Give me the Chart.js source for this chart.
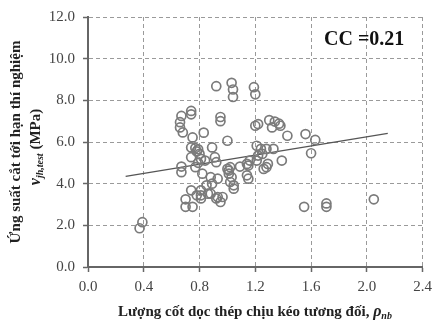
<!DOCTYPE html>
<html>
<head>
<meta charset="utf-8">
<script src="https://cdn.jsdelivr.net/npm/chart.js@4.4.0/dist/chart.umd.min.js"></script>
<style>
  html, body { margin: 0; padding: 0; background: #fff; }
  #wrap { width: 438px; height: 322px; }
</style>
</head>
<body>
<div id="wrap"><canvas id="shearChart"></canvas></div>
<script>
// relative longitudinal tension reinforcement ratio (x) and tested joint shear stress (y)
const rhoNb = [
  0.37, 0.39,
  0.66, 0.66, 0.67, 0.68, 0.74, 0.74, 0.75, 0.83,
  0.74, 0.78, 0.79, 0.89, 0.77, 0.80, 0.74, 0.81, 0.84, 0.91, 0.92, 0.79,
  0.67, 0.67, 0.77, 0.82, 0.88, 0.93, 0.89, 0.85,
  0.81, 0.81, 0.81, 0.86, 0.88, 0.74, 0.78, 0.92, 0.93, 0.95, 0.965,
  0.70, 0.70, 0.75,
  0.92, 1.03, 1.04, 1.04, 1.19, 1.20, 0.95, 0.95, 1.00,
  1.20, 1.22, 1.30, 1.34, 1.37, 1.32, 1.38, 1.43, 1.56, 1.63,
  1.21, 1.24, 1.28, 1.33, 1.22, 1.25,
  1.00, 1.02, 1.09, 1.14, 1.16, 1.21, 1.28, 1.39, 1.29, 1.26, 1.15,
  1.01, 1.01, 1.14, 1.03, 1.15, 1.60,
  1.02, 1.045, 1.045,
  1.55, 1.71, 1.71, 2.05
];
const vJhTest = [
  1.86, 2.15,
  6.95, 6.70, 7.25, 6.46, 7.49, 7.33, 6.22, 6.45,
  5.74, 5.55, 5.65, 5.74, 5.71, 5.43, 5.27, 5.19, 5.11, 5.27, 5.03, 5.00,
  4.82, 4.55, 4.79, 4.48, 4.31, 4.24, 4.00, 3.92,
  3.68, 3.44, 3.29, 3.52, 3.52, 3.68, 3.44, 3.29, 3.36, 3.12, 3.36,
  3.25, 2.89, 2.89,
  8.68, 8.84, 8.52, 8.16, 8.63, 8.29, 7.20, 7.00, 6.06,
  6.78, 6.86, 7.05, 6.98, 6.88, 6.70, 6.78, 6.30, 6.38, 6.10,
  5.82, 5.67, 5.67, 5.67, 5.35, 5.43,
  4.71, 4.79, 4.82, 4.95, 5.11, 5.11, 4.79, 5.11, 4.95, 4.71, 4.87,
  4.63, 4.48, 4.40, 4.31, 4.24, 5.46,
  4.08, 3.92, 3.76,
  2.89, 3.05, 2.89, 3.25
];
const trendRho = [0.27, 2.15];
const trendV = [4.35, 6.41];
const xTicks = [0, 0.4, 0.8, 1.2, 1.6, 2.0, 2.4];
const yTicks = [0, 2, 4, 6, 8, 10, 12];
const ccText = "CC =0.21";

const serif = "'Liberation Serif', 'Times New Roman', serif";

const points = rhoNb.map((x, i) => ({ x: x, y: vJhTest[i] }));
const trend = trendRho.map((x, i) => ({ x: x, y: trendV[i] }));

// axis titles with italic / subscript parts, plus the CC note
const titlesPlugin = {
  id: "titles",
  afterDraw(chart) {
    const ctx = chart.ctx;
    ctx.save();
    ctx.fillStyle = "#222";
    ctx.textBaseline = "alphabetic";

    // x title
    const xMain = "L\u01b0\u1ee3ng c\u1ed1t d\u1ecdc th\u00e9p ch\u1ecbu k\u00e9o t\u01b0\u01a1ng \u0111\u1ed1i, ";
    ctx.font = "bold 15px " + serif;
    const w1 = ctx.measureText(xMain).width;
    ctx.font = "italic bold 16px " + serif;
    const w2 = ctx.measureText("\u03c1").width;
    ctx.font = "italic bold 10px " + serif;
    const w3 = ctx.measureText("nb").width;
    let x0 = 255 - (w1 + w2 + w3) / 2;
    const by = 316;
    ctx.font = "bold 15px " + serif;
    ctx.fillText(xMain, x0, by);
    ctx.font = "italic bold 16px " + serif;
    ctx.fillText("\u03c1", x0 + w1, by);
    ctx.font = "italic bold 10px " + serif;
    ctx.fillText("nb", x0 + w1 + w2, by + 3);

    // y title, two rotated lines
    const yLine1 = "\u1ee8ng su\u1ea5t c\u1eaft t\u1edbi h\u1ea1n th\u00ed nghi\u1ec7m";
    ctx.save();
    ctx.translate(20, 142);
    ctx.rotate(-Math.PI / 2);
    ctx.font = "bold 15px " + serif;
    ctx.textAlign = "center";
    ctx.fillText(yLine1, 0, 0);
    ctx.restore();

    ctx.save();
    ctx.translate(40, 147);
    ctx.rotate(-Math.PI / 2);
    ctx.textAlign = "left";
    ctx.font = "italic bold 16px " + serif;
    const a = ctx.measureText("v").width;
    ctx.font = "italic bold 10px " + serif;
    const b = ctx.measureText("jh,test").width;
    ctx.font = "bold 15px " + serif;
    const c = ctx.measureText(" (MPa)").width;
    let s = -(a + b + c) / 2;
    ctx.font = "italic bold 16px " + serif;
    ctx.fillText("v", s, 0);
    ctx.font = "italic bold 10px " + serif;
    ctx.fillText("jh,test", s + a, 3);
    ctx.font = "bold 15px " + serif;
    ctx.fillText(" (MPa)", s + a + b, 0);
    ctx.restore();

    // correlation note
    ctx.font = "bold 20px " + serif;
    ctx.fillStyle = "#111";
    ctx.fillText(ccText, 324, 45);
    ctx.restore();
  }
};

const gridColor = (c) => (c.tick && c.tick.value === 0 ? "rgba(0,0,0,0)" : "#9a9a9a");

new Chart(document.getElementById("shearChart"), {
  type: "scatter",
  data: {
    datasets: [
      {
        label: "test",
        data: points,
        pointStyle: "circle",
        pointRadius: 4.5,
        borderWidth: 1.7,
        borderColor: "#7b7b7b",
        backgroundColor: "rgba(0,0,0,0)"
      },
      {
        type: "line",
        label: "trend",
        data: trend,
        showLine: true,
        borderColor: "#555",
        borderWidth: 1.2,
        pointRadius: 0,
        fill: false
      }
    ]
  },
  options: {
    responsive: true,
    maintainAspectRatio: false,
    animation: false,
    layout: { padding: { left: 0, right: 10, top: 15, bottom: 0 } },
    plugins: { legend: { display: false }, tooltip: { enabled: false } },
    scales: {
      x: {
        type: "linear",
        min: 0,
        max: 2.4,
        afterBuildTicks: (sc) => { sc.ticks = xTicks.map(v => ({ value: v })); },
        afterFit: (sc) => { sc.height = 55; },
        ticks: {
          callback: (v) => Number(v).toFixed(1),
          font: { family: serif, size: 15 },
          color: "#444",
          padding: 6,
          maxRotation: 0
        },
        grid: { color: gridColor, lineWidth: 1, tickLength: 5, tickColor: "#666", tickWidth: 1.5 },
        border: { display: true, color: "#666", width: 2, dash: [4, 3] }
      },
      y: {
        type: "linear",
        min: 0,
        max: 12,
        afterBuildTicks: (sc) => { sc.ticks = yTicks.map(v => ({ value: v })); },
        afterFit: (sc) => { sc.width = 88; },
        ticks: {
          callback: (v) => Number(v).toFixed(1),
          font: { family: serif, size: 15 },
          color: "#444",
          padding: 8
        },
        grid: { color: gridColor, lineWidth: 1, tickLength: 5, tickColor: "#666", tickWidth: 1.5 },
        border: { display: true, color: "#666", width: 2, dash: [4, 3] }
      }
    }
  },
  plugins: [titlesPlugin]
});
</script>
</body>
</html>
